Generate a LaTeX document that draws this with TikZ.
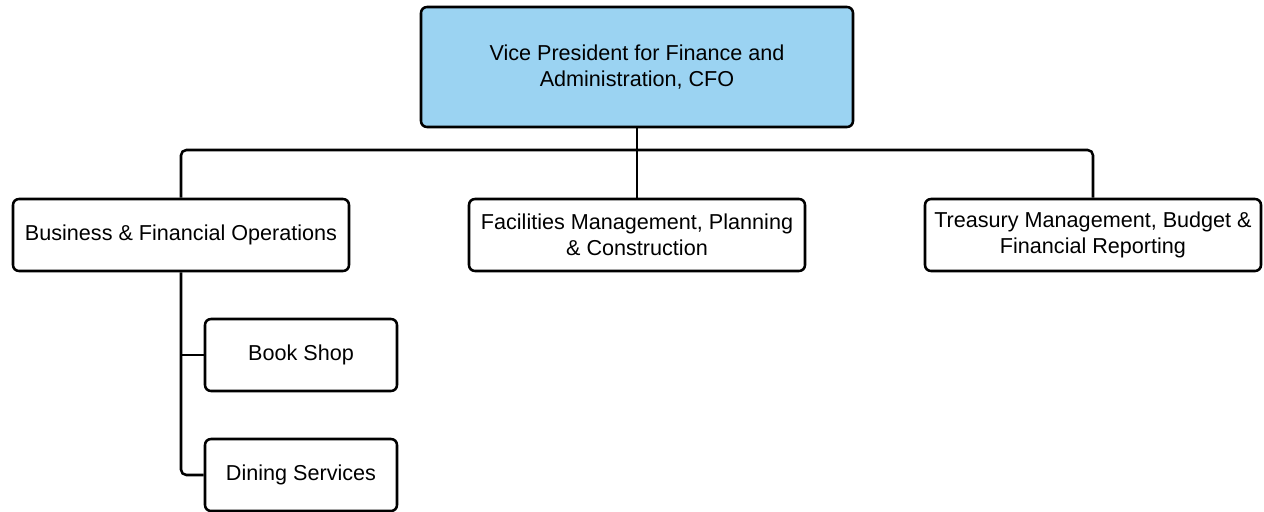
\documentclass[tikz,border=0pt]{standalone}
\usepackage{fontspec}
\setmainfont{Liberation Sans}
\usepackage{tikz}

\definecolor{vpblue}{HTML}{9BD3F2}

\begin{document}
\begin{tikzpicture}[x=0.75pt,y=-0.75pt,
    unitbox/.style={draw=black,line width=1.9pt,rounded corners=4.5pt,fill=white,
      align=center,inner sep=0pt,minimum width=252pt,minimum height=54pt,
      font=\fontsize{16.2}{19.5}\selectfont},
    smallbox/.style={unitbox,minimum width=144pt},
    link/.style={line width=1.9pt,rounded corners=4pt}]
      \useasboundingbox (0,0) rectangle (1264,511);
      \node[unitbox,fill=vpblue,minimum width=324pt,minimum height=90pt] (vp) at (637,67)
        {Vice President for Finance and\\Administration, CFO};
      \node[unitbox] (bfo) at (181,235) {Business \& Financial Operations};
      \node[unitbox] (fmp) at (637,235) {Facilities Management, Planning\\\& Construction};
      \node[unitbox] (tmb) at (1093,235) {Treasury Management, Budget \&\\Financial Reporting};
      \node[smallbox] (book) at (301,355) {Book Shop};
      \node[smallbox] (dine) at (301,475) {Dining Services};
      \draw[link] (vp.south) -- (fmp.north);
      \draw[link] (bfo.north) |- (637,150) -| (tmb.north);
      \draw[link] (bfo.south) |- (dine.west);
      \draw[link] (bfo.south |- book.west) -- (book.west);
\end{tikzpicture}
\end{document}
